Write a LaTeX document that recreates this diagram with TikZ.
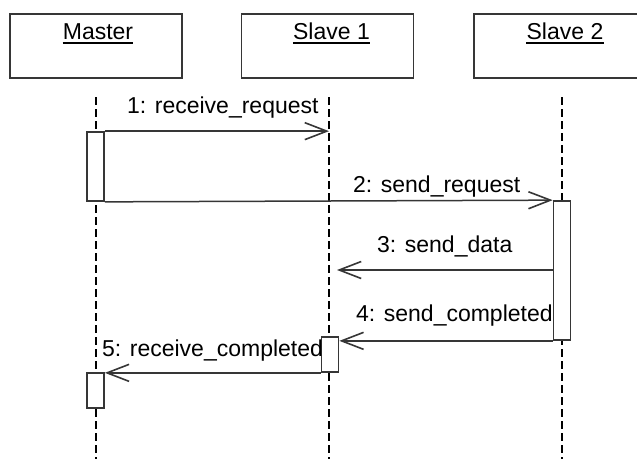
\documentclass[tikz,border=0pt]{standalone}
\usepackage{fontspec}
\setmainfont{Liberation Sans}
\usetikzlibrary{arrows.meta}
\definecolor{lc}{HTML}{363636}
\begin{document}
\begin{tikzpicture}[x=1pt,y=-1pt,
  font=\fontsize{23}{27}\selectfont,
  actor/.style={draw=lc, line width=1.7pt, minimum width=172pt, minimum height=64pt, inner sep=0pt},
  act/.style={draw=lc, fill=white, line width=1.7pt, minimum width=17pt, inner sep=0pt},
  life/.style={draw=black, line width=1.7pt, dash pattern=on 8pt off 4pt},
  msg/.style={draw=lc, line width=1.5pt, -{Straight Barb[length=22pt,width=17pt,line width=1.6pt]}},
  lbl/.style={anchor=base west, inner sep=0pt},
  ttl/.style={anchor=base, inner sep=0pt},
  ul/.style={line width=1.6pt, draw=black}]
\useasboundingbox (0,0) rectangle (637,459);
% actor boxes
\node[actor] (m)  at (96,46) {};
\node[actor] (s1) at (327.5,46) {};
\node[actor] (s2) at (560,46) {};
\node[ttl] (mt)  at (98,39) {Master};
\node[ttl] (s1t) at (331.5,39) {Slave 1};
\node[ttl] (s2t) at (565,39) {Slave 2};
\draw[ul] ([yshift=-4pt]mt.base west) -- ([yshift=-4pt]mt.base east);
\draw[ul] ([yshift=-4pt]s1t.base west) -- ([yshift=-4pt]s1t.base east);
\draw[ul] ([yshift=-4pt]s2t.base west) -- ([yshift=-4pt]s2t.base east);
% lifelines
\coordinate (L0a) at (96,97);   \coordinate (L0b) at (96,459);
\coordinate (L1a) at (329,97);  \coordinate (L1b) at (329,459);
\coordinate (L2a) at (562,97);  \coordinate (L2b) at (562,459);
\draw[life] (L0a) -- (L0b);
\draw[life] (L1a) -- (L1b);
\draw[life] (L2a) -- (L2b);
% activations
\node[act, minimum height=69pt] (a1) at (95.5,166.5) {};
\node[act, minimum height=35pt] (a2) at (95.5,390.5) {};
\node[act, minimum height=35pt] (b1) at (330,354.5) {};
\node[act, minimum height=139pt] (c1) at (562,270.5) {};
% messages
\coordinate (m3) at (337,270);
\draw[msg] (a1.north east) -- (a1.north east -| L1a);
\draw[msg] (a1.south east) -- (c1.north west);
\draw[msg] (m3 -| c1.west) -- (m3);
\draw[msg] (c1.south west) -- (c1.south west -| b1.east);
\draw[msg] (b1.south west) -- (b1.south west -| a2.east);
% labels
\node[lbl] (t1) at (127,113) {1: receive\_request};
\node[lbl] (t2) at (353,192) {2: send\_request};
\node[lbl] (t3) at (377,252) {3: send\_data};
\node[lbl] (t4) at (356,321) {4: send\_completed};
\node[lbl] (t5) at (102,356) {5: receive\_completed};
\end{tikzpicture}
\end{document}
